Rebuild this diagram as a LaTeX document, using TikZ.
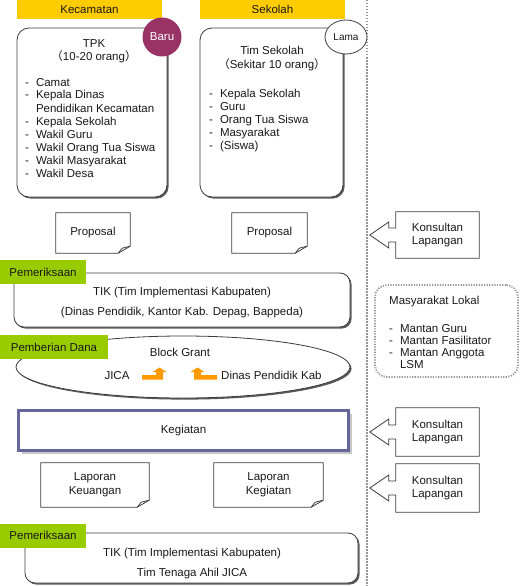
\documentclass[tikz,border=0pt]{standalone}
\usepackage{fontspec}
\setmainfont{Liberation Sans}
\newfontfamily\cjk{Noto Sans CJK JP}
\usetikzlibrary{shapes.geometric,shadows,calc}
\definecolor{hdr}{RGB}{255,204,0}
\definecolor{grn}{RGB}{153,204,0}
\definecolor{baru}{RGB}{153,51,102}
\definecolor{keg}{RGB}{102,102,153}
\definecolor{org}{RGB}{255,153,0}
\definecolor{ln}{RGB}{60,60,60}
\definecolor{txt}{RGB}{25,25,25}
\definecolor{dotc}{RGB}{150,150,150}
\newcommand\fpl{{\cjk （}}
\newcommand\fpr{{\cjk ）}}
\newcommand\notepath[1]{\draw[noteline] (#1.north west) -- (#1.north east) -- ($(#1.south east)+(0,-7)$) -- ($(#1.south east)+(-12,0)$) -- (#1.south west) -- cycle; \draw[noteline] ($(#1.south east)+(-12,0)$) -- ($(#1.south east)+(-8,-5)$) -- ($(#1.south east)+(0,-7)$);}
\newcommand\konspath[1]{\draw[noteline] (#1.north west) -- (#1.north east) -- (#1.south east) -- (#1.south west) -- ($(#1.west)+(0,7)$) -- ++(-7,0) -- ++(0,6) -- ($(#1.west)+(-26,0)$) -- ($(#1.west)+(-7,-13)$) -- ++(0,6) -- ($(#1.west)+(0,-7)$) -- cycle;}
\newcommand\lst[1]{\begin{tabular}[t]{@{}l@{\hspace{7pt}}l@{}}#1\end{tabular}}
\begin{document}
\begin{tikzpicture}[x=1pt,y=-1pt,
  every node/.style={text=txt,font=\fontsize{11.5}{13}\selectfont,inner sep=0},
  hdrbox/.style={fill=hdr,minimum width=145,minimum height=19},
  grnbox/.style={fill=grn,minimum height=24},
  roundbox/.style={draw=ln,fill=white,line width=0.8,drop shadow={shadow xshift=1.6pt,shadow yshift=-1.6pt,fill=black!65,opacity=1}},
  notebox/.style={minimum height=40},
  noteline/.style={draw=ln,line width=0.8},
  konsbox/.style={minimum width=83,align=center},
  sepline/.style={draw=dotc,line width=2,dash pattern=on 1.5pt off 1.5pt},
  txtline/.style={anchor=base}
]
\useasboundingbox (0,0) rectangle (520,586);
% headers
\node[hdrbox] (kec) at (89.5,9.5) {Kecamatan};
\node[hdrbox] (sek) at (272.5,9.5) {Sekolah};
\coordinate (dtop) at (367,0);
\coordinate (dbot) at (367,586);
\draw[sepline] (dtop) -- (dbot);
% top boxes
\node[roundbox,rounded corners=12,minimum width=150,minimum height=169] (tpk) at (92,112.5) {};
\node[roundbox,rounded corners=12,minimum width=143,minimum height=169] (tims) at (271.5,112.5) {};
\node[circle,fill=baru,text=white,minimum size=39] (baru) at (162,37) {Baru};
\node[ellipse,draw=ln,fill=white,line width=0.8,minimum width=42,minimum height=34,font=\fontsize{10}{12}\selectfont] (lama) at (346,37) {Lama};
\node[txtline] (tpkt) at (94,48) {TPK};
\node[txtline] (tpkn) at (94,61) {\fpl 10-20 orang\fpr};
\node[anchor=base west] (tpkl) at (25,86) {\lst{-&Camat\\-&Kepala Dinas\\&Pendidikan Kecamatan\\-&Kepala Sekolah\\-&Wakil Guru\\-&Wakil Orang Tua Siswa\\-&Wakil Masyarakat\\-&Wakil Desa}};
\node[txtline] (timst) at (272,55) {Tim Sekolah};
\node[txtline] (timsn) at (272,69) {\fpl Sekitar 10 orang\fpr};
\node[anchor=base west] (timsl) at (209,97) {\lst{-&Kepala Sekolah\\-&Guru\\-&Orang Tua Siswa\\-&Masyarakat\\-&(Siswa)}};
% proposals
\node[notebox,minimum width=74] (p1) at (93,233) {Proposal}; \notepath{p1}
\node[notebox,minimum width=75] (p2) at (269.5,233) {Proposal}; \notepath{p2}
\node[konsbox,minimum height=46] (k1) at (437.5,235) {Konsultan\\Lapangan}; \konspath{k1}
% TIK 1
\node[roundbox,rounded corners=10,minimum width=336,minimum height=54] (tik1) at (182,300) {};
\node[txtline] (tik1a) at (182,295) {TIK (Tim Implementasi Kabupaten)};
\node[txtline] (tik1b) at (182,315) {(Dinas Pendidik, Kantor Kab. Depag, Bappeda)};
\node[grnbox,minimum width=86] (pem1) at (43,272) {Pemeriksaan};
% Masyarakat Lokal
\node[draw=dotc,line width=1.8,dash pattern=on 1.2pt off 1.4pt,rounded corners=12,minimum width=143,minimum height=92] (ml) at (446.5,331) {};
\node[anchor=base west] (mlt) at (389,304) {Masyarakat Lokal};
\node[anchor=base west,font=\fontsize{11.5}{12}\selectfont] (mll) at (389,332) {\lst{-&Mantan Guru\\-&Mantan Fasilitator\\-&Mantan Anggota\\&LSM}};
% block grant
\node[ellipse,draw=ln,fill=white,line width=0.8,drop shadow={shadow xshift=1.6pt,shadow yshift=-1.6pt,fill=black!65,opacity=1},minimum width=334,minimum height=62] (ell) at (183,367) {};
\node[txtline] (bg) at (180,356) {Block Grant};
\node[txtline] (jica) at (117,379) {JICA};
\node[anchor=base west] (dpk) at (221,379) {Dinas Pendidik Kab};
\node[grnbox,minimum width=108] (pd) at (54,347) {Pemberian Dana};
\fill[org] (142,375) -- (156,375) -- (156,372) -- (152.5,372) -- (159.5,367.5) -- (166.5,372) -- (163,372) -- (163,379.5) -- (142,379.5) -- cycle;
\fill[org] (217,375) -- (201,375) -- (201,372) -- (204.5,372) -- (197.5,367.5) -- (190.5,372) -- (194,372) -- (194,379.5) -- (217,379.5) -- cycle;
% Kegiatan
\node[draw=keg,line width=3,fill=white,drop shadow={shadow xshift=3pt,shadow yshift=-3pt,fill=black!22,opacity=1},minimum width=330,minimum height=40] (keg) at (183.5,430.5) {Kegiatan};
\node[konsbox,minimum height=48] (k2) at (437.5,432) {Konsultan\\Lapangan}; \konspath{k2}
% laporan
\node[notebox,minimum width=108,minimum height=44,align=center] (lk) at (95,485) {Laporan\\[1pt]Keuangan}; \notepath{lk}
\node[notebox,minimum width=109,minimum height=44,align=center] (lg) at (268.5,485) {Laporan\\[1pt]Kegiatan}; \notepath{lg}
\node[konsbox,minimum height=48] (k3) at (437.5,488) {Konsultan\\Lapangan}; \konspath{k3}
% TIK 2
\node[roundbox,rounded corners=10,minimum width=333,minimum height=50] (tik2) at (191.5,558) {};
\node[txtline] (tik2a) at (192,556) {TIK (Tim Implementasi Kabupaten)};
\node[txtline] (tik2b) at (192,576) {Tim Tenaga Ahil JICA};
\node[grnbox,minimum width=86] (pem2) at (43,535.5) {Pemeriksaan};
\end{tikzpicture}
\end{document}
